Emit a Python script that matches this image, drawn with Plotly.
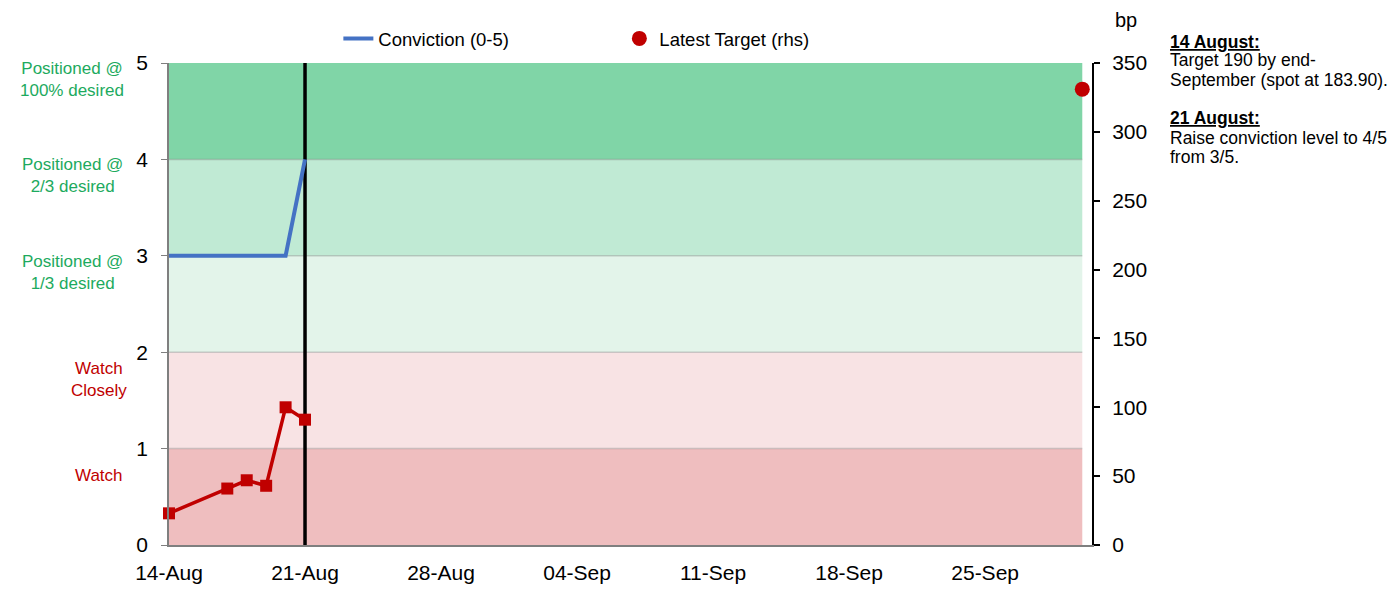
import plotly.graph_objects as go

# conviction level (lhs, 0-5)
conviction_dates = ["2017-08-14", "2017-08-15", "2017-08-16", "2017-08-17",
                    "2017-08-18", "2017-08-19", "2017-08-20", "2017-08-21"]
conviction_values = [3, 3, 3, 3, 3, 3, 3, 4]

# spread history (rhs, bp)
spread_dates = ["2017-08-14", "2017-08-17", "2017-08-18", "2017-08-19",
                "2017-08-20", "2017-08-21"]
spread_values = [23, 41, 47, 43, 100, 91]

# latest target (rhs, bp)
target_dates = ["2017-09-30"]
target_values = [331]

conviction_change_date = "2017-08-21"
chart_start = "2017-08-14"
chart_end = "2017-09-30"

band_edges = [0, 1, 2, 3, 4, 5]
band_colors = ["#EFBEBF", "#F8E3E4", "#E3F4EA", "#C0EAD4", "#80D5A7"]
band_labels = ["Watch", "Watch<br>Closely", "Positioned @<br>1/3 desired",
               "Positioned @<br>2/3 desired", "Positioned @<br>100% desired"]

notes = [
    ("<b><u>14 August:</u></b>", 1.0434),
    ("Target 190 by end-", 1.0062),
    ("September (spot at 183.90).", 0.9649),
    ("<b><u>21 August:</u></b>", 0.8864),
    ("Raise conviction level to 4/5", 0.8450),
    ("from 3/5.", 0.8058),
]

FONT = "Liberation Sans, Arial, sans-serif"
GREEN = "#1DAA5E"
RED = "#C00000"

fig = go.Figure()

fig.add_trace(go.Scatter(
    x=conviction_dates, y=conviction_values, name="Conviction (0-5)",
    mode="lines", line=dict(color="#4472C4", width=4), yaxis="y",
    cliponaxis=False))

fig.add_trace(go.Scatter(
    x=spread_dates, y=spread_values, name="Spread",
    mode="lines+markers", line=dict(color=RED, width=3.5),
    marker=dict(symbol="square", size=12, color=RED),
    yaxis="y2", showlegend=False, cliponaxis=False))

fig.add_trace(go.Scatter(
    x=target_dates, y=target_values, name="Latest Target (rhs)",
    mode="markers", marker=dict(symbol="circle", size=15, color=RED),
    yaxis="y2", cliponaxis=False))

# coloured conviction bands
for lo, hi, col in zip(band_edges[:-1], band_edges[1:], band_colors):
    fig.add_shape(type="rect", xref="x", yref="y", x0=chart_start, x1=chart_end,
                  y0=lo, y1=hi, fillcolor=col, line_width=0, layer="below")
for lvl in band_edges[1:-1]:
    fig.add_shape(type="line", xref="x", yref="y", x0=chart_start, x1=chart_end,
                  y0=lvl, y1=lvl, line=dict(color="rgba(120,120,120,0.35)", width=1.5),
                  layer="below")

fig.add_shape(type="line", xref="x", yref="y", x0=conviction_change_date,
              x1=conviction_change_date, y0=band_edges[0], y1=band_edges[-1],
              line=dict(color="black", width=3.5), layer="below")

# band labels on the left
for i, txt in enumerate(band_labels):
    mid = (band_edges[i] + band_edges[i + 1]) / 2
    if i < 2:
        fig.add_annotation(text=txt, xref="paper", yref="y", x=0, y=mid + 0.22,
                           xshift=-70, xanchor="center", showarrow=False,
                           font=dict(family=FONT, size=17, color=RED))
    else:
        fig.add_annotation(text=txt, xref="paper", yref="y", x=0, y=mid + 0.33,
                           xshift=-97, xanchor="center", showarrow=False,
                           font=dict(family=FONT, size=17, color=GREEN))

fig.add_annotation(text="bp", xref="paper", yref="paper", x=1.0368, y=1.0888,
                   xanchor="center", yanchor="middle", showarrow=False,
                   font=dict(family=FONT, size=20, color="black"))

for txt, yy in notes:
    fig.add_annotation(text=txt, xref="paper", yref="paper", x=1.0823, y=yy,
                       xanchor="left", yanchor="middle", showarrow=False,
                       font=dict(family=FONT, size=17.5, color="black"))

# the page body keeps an 8px margin, so the figure is 8px smaller each way
fig.update_layout(
    width=1392, height=589,
    margin=dict(l=161, r=308, t=53, b=52),
    paper_bgcolor="white", plot_bgcolor="white",
    font=dict(family=FONT, size=21, color="black"),
    showlegend=True,
    legend=dict(orientation="h", x=0.1835, xanchor="left", y=1.05, yanchor="middle",
                font=dict(family=FONT, size=18.5), entrywidth=236,
                bgcolor="rgba(0,0,0,0)"),
    xaxis=dict(type="date", range=["2017-08-14", "2017-09-30 12:00"],
               tick0="2017-08-14", dtick=7 * 86400000, tickformat="%d-%b",
               showgrid=False, zeroline=False, showline=True,
               linecolor="#7F7F7F", linewidth=1.5, ticks="",
               ticklabelstandoff=8, tickfont=dict(size=21)),
    yaxis=dict(range=[0, 5], dtick=1, showgrid=False, zeroline=False,
               showline=True, linecolor="#7F7F7F", linewidth=1.5,
               ticks="outside", ticklen=6, tickcolor="#7F7F7F",
               ticklabelstandoff=9, tickfont=dict(size=21)),
    yaxis2=dict(range=[0, 350], dtick=50, overlaying="y", side="right",
                showgrid=False, zeroline=False, showline=True,
                linecolor="black", linewidth=2, ticks="outside", ticklen=6,
                tickcolor="black", tickwidth=2, ticklabelstandoff=8,
                tickfont=dict(size=21)),
)

fig.write_html("out.html")
